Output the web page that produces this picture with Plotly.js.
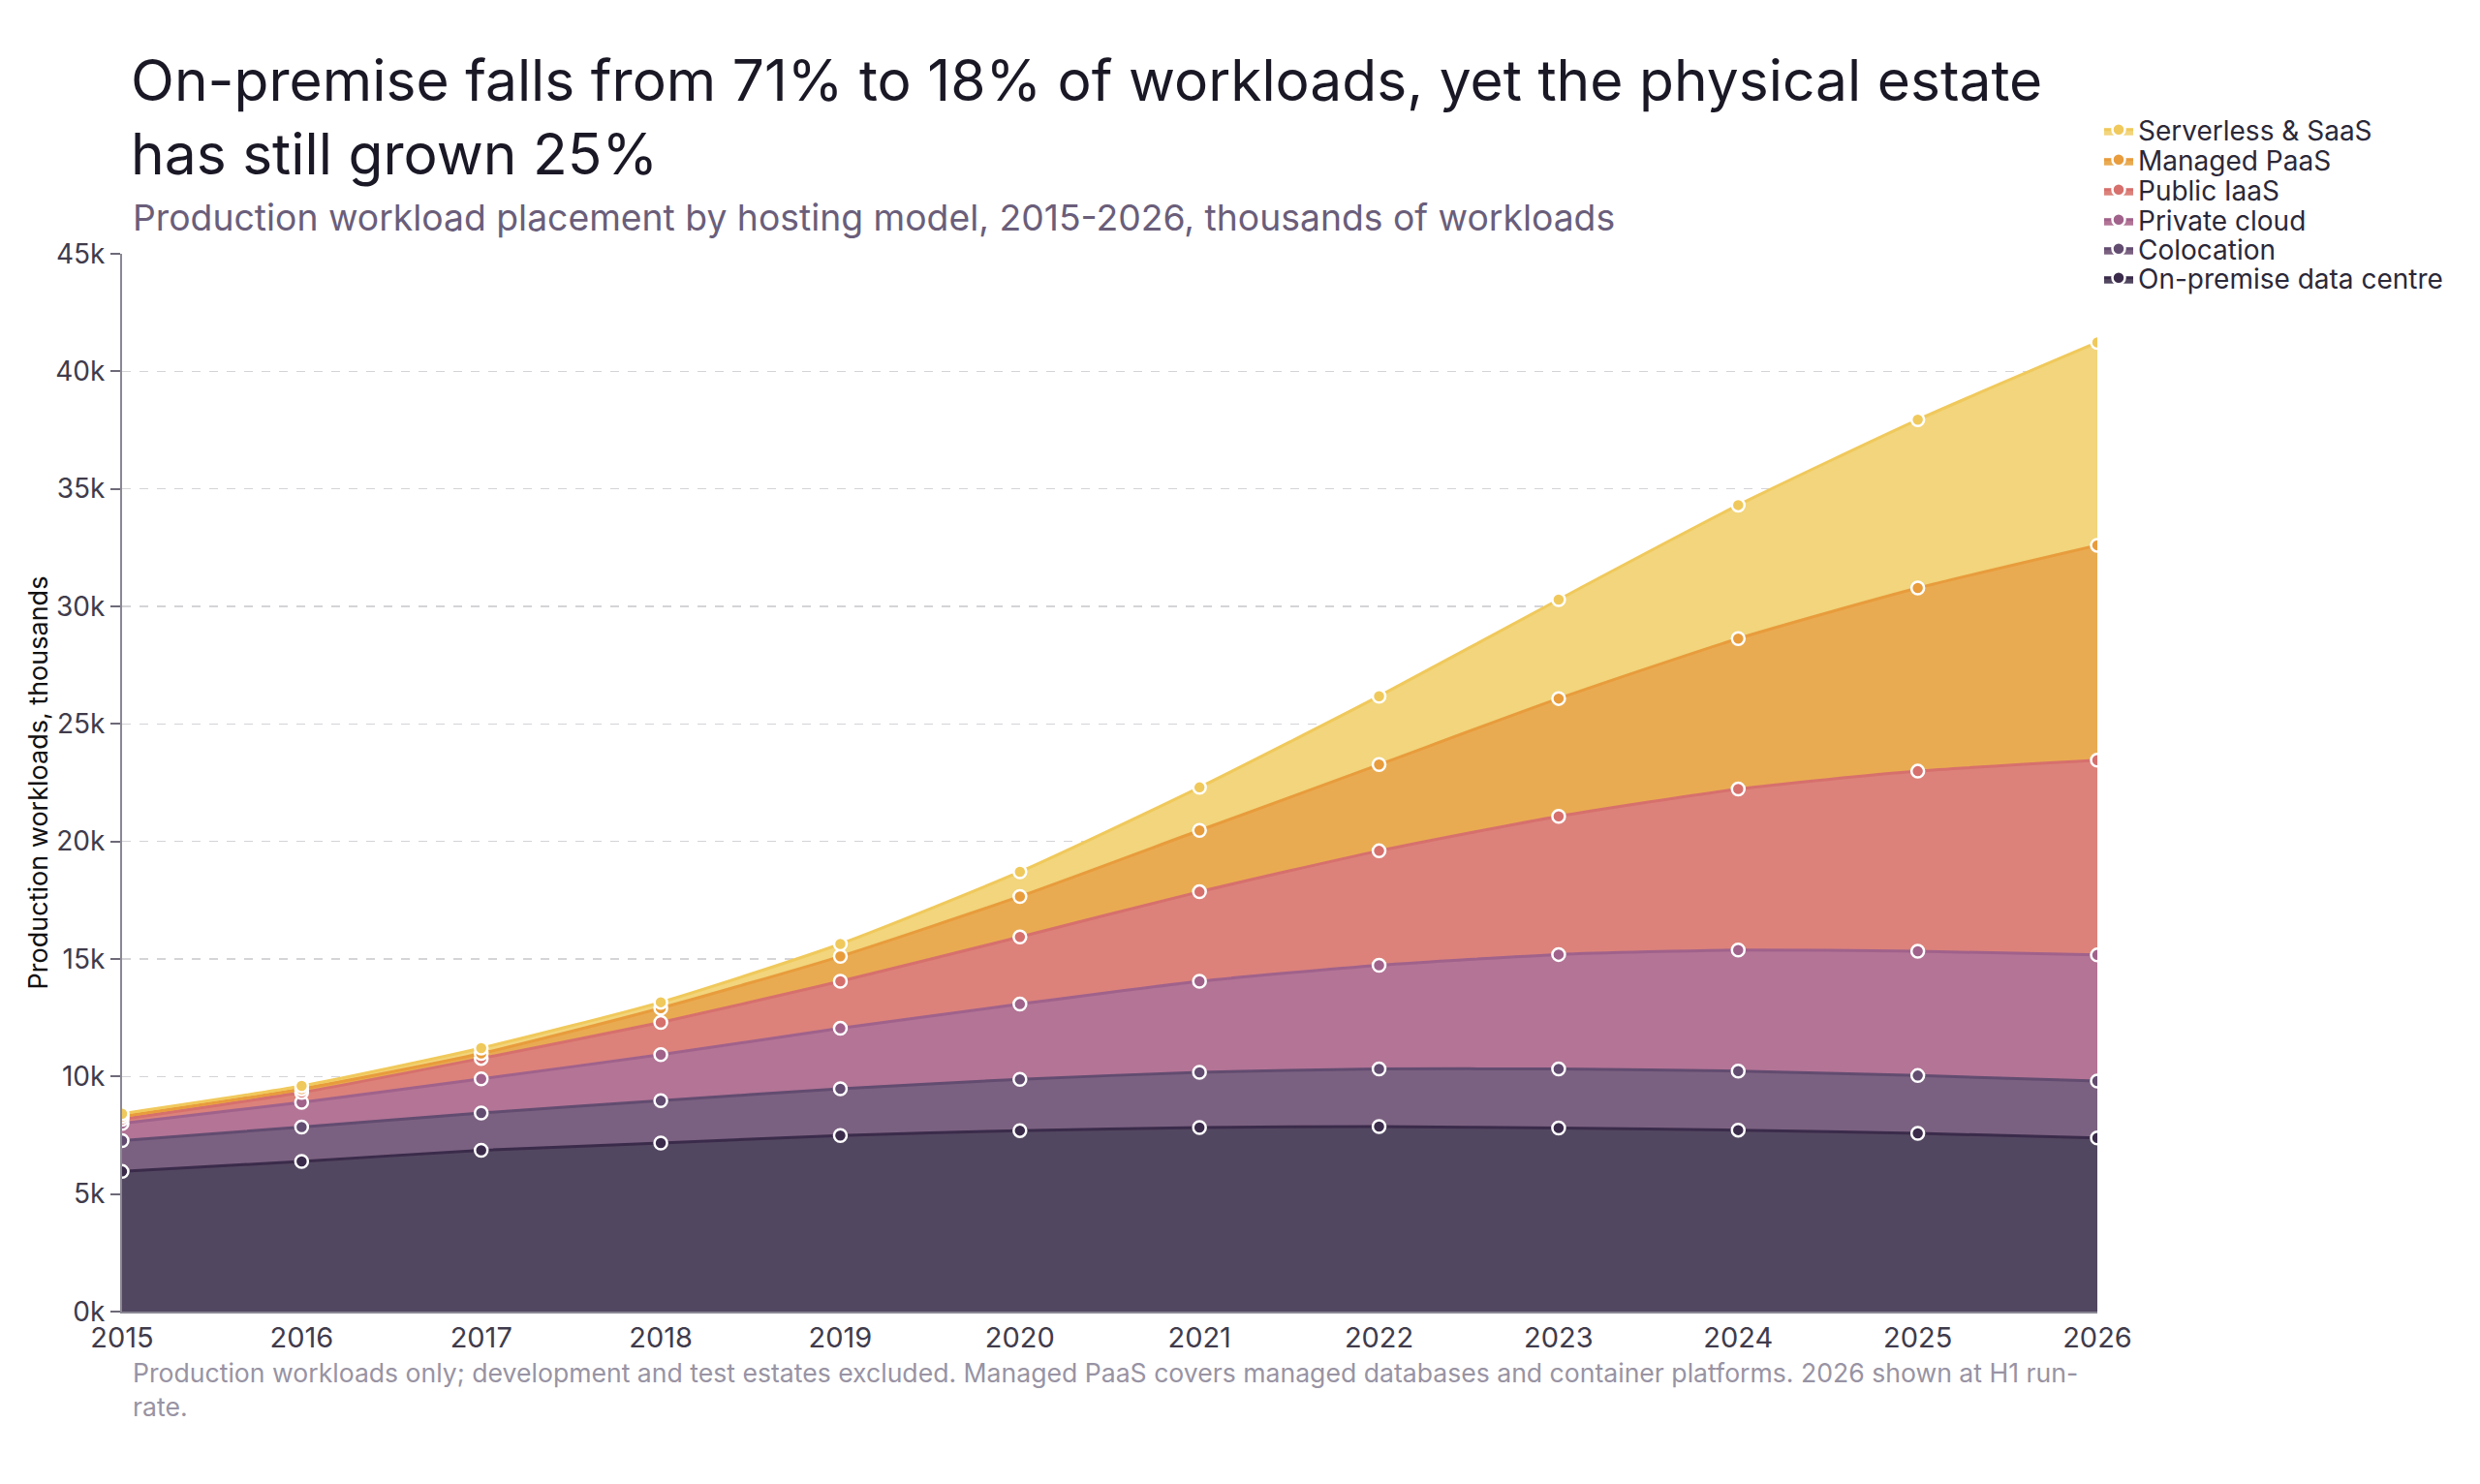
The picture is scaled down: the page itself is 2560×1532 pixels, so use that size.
<!DOCTYPE html>
<html>
<head>
<meta charset="utf-8">
<script src="https://cdn.plot.ly/plotly-3.0.1.min.js"></script>
<style>
  html, body { margin: 0; padding: 0; background: #ffffff; }
  #chart { width: 2560px; height: 1532px; }
</style>
</head>
<body>
<div id="chart"></div>
<script>
// Years (x categories)
const years = [2015, 2016, 2017, 2018, 2019, 2020, 2021, 2022, 2023, 2024, 2025, 2026];

// Production workloads by hosting model, thousands
const onPremise  = [5.96, 6.39, 6.86, 7.17, 7.49, 7.70, 7.83, 7.87, 7.81, 7.72, 7.58, 7.39];
const colocation = [1.31, 1.46, 1.59, 1.80, 1.99, 2.18, 2.35, 2.45, 2.51, 2.51, 2.46, 2.42];
const privateCloud = [0.73, 1.05, 1.45, 1.96, 2.57, 3.20, 3.87, 4.41, 4.87, 5.15, 5.29, 5.36];
const publicIaaS = [0.18, 0.42, 0.87, 1.37, 2.00, 2.86, 3.81, 4.87, 5.88, 6.85, 7.66, 8.29];
const managedPaaS = [0.12, 0.15, 0.21, 0.61, 1.06, 1.72, 2.61, 3.67, 5.01, 6.40, 7.79, 9.14];
const serverlessSaaS = [0.12, 0.13, 0.23, 0.25, 0.53, 1.05, 1.83, 2.91, 4.21, 5.68, 7.16, 8.63];

const seriesNames = ["On-premise data centre", "Colocation", "Private cloud", "Public IaaS", "Managed PaaS", "Serverless & SaaS"];
const seriesValues = [onPremise, colocation, privateCloud, publicIaaS, managedPaaS, serverlessSaaS];
const fillColors = ["#524760", "#7b6181", "#b37496", "#dc827b", "#e9ab52", "#f2d57c"];
const lineColors = ["#3b2b4b", "#624c70", "#a0628b", "#d6706d", "#e89c3c", "#f0c95c"];

// Y-axis ticks
const yTickVals = [0, 5, 10, 15, 20, 25, 30, 35, 40, 45];
const yTickText = ["0k", "5k", "10k", "15k", "20k", "25k", "30k", "35k", "40k", "45k"];

const FONT = "Inter, 'Noto Sans', 'DejaVu Sans', sans-serif";

// plot area geometry (pixels)
const PL = 126, PR = 2165, PT = 262, PB = 1354;
const PW = PR - PL, PH = PB - PT;
const px2x = (x) => (x - PL) / PW;
const px2y = (y) => (PB - y) / PH;

// one legend per series so the item spacing can match the reference
const legendKeys = ["legend6", "legend5", "legend4", "legend3", "legend2", "legend"];
const legendCenters = [287, 257, 227, 196, 165, 134];

const traces = seriesNames.map((name, i) => ({
  type: "scatter",
  mode: "lines+markers",
  name: name,
  x: years,
  y: seriesValues[i],
  stackgroup: "one",
  fill: "tonexty",
  fillcolor: fillColors[i],
  line: { color: lineColors[i], width: 3, shape: "spline", smoothing: 0.6 },
  marker: { size: 13, color: lineColors[i], line: { color: "#ffffff", width: 2.5 } },
  legend: legendKeys[i],
  hoverinfo: "skip"
}));

const layout = {
  width: 2560,
  height: 1532,
  paper_bgcolor: "#ffffff",
  plot_bgcolor: "#ffffff",
  margin: { l: PL, r: 2560 - PR, t: PT, b: 1532 - PB, pad: 0 },
  font: { family: FONT, color: "#2b2838" },
  title: {
    text: "On-premise falls from 71% to 18% of workloads, yet the physical estate<br>has still grown 25%",
    font: { family: FONT, size: 58.7, color: "#1b1826" },
    x: 135 / 2560,
    xanchor: "left",
    xref: "container",
    y: 1 - 104 / 1532,
    yanchor: "top",
    yref: "container"
  },
  showlegend: true,
  xaxis: {
    range: [2015, 2026],
    tickmode: "array",
    tickvals: years,
    ticktext: years.map(String),
    tickfont: { family: FONT, size: 29, color: "#403b4b" },
    showgrid: false,
    zeroline: false,
    showline: true,
    linecolor: "#8a8794",
    linewidth: 2,
    ticks: "",
    fixedrange: true
  },
  yaxis: {
    range: [0, 45],
    tickmode: "array",
    tickvals: yTickVals,
    ticktext: yTickText,
    tickfont: { family: FONT, size: 28, color: "#403b4b" },
    showgrid: true,
    gridcolor: "#d4d4d8",
    griddash: "dash",
    gridwidth: 1.5,
    zeroline: false,
    showline: true,
    linecolor: "#8a8794",
    linewidth: 2,
    ticks: "outside",
    ticklen: 10,
    tickcolor: "#6e6a78",
    tickwidth: 2,
    title: {
      text: "Production workloads, thousands",
      font: { family: FONT, size: 27, color: "#111111" },
      standoff: 0
    },
    fixedrange: true
  },
  annotations: [
    {
      text: "Production workload placement by hosting model, 2015-2026, thousands of workloads",
      xref: "paper", yref: "paper",
      x: px2x(135), y: px2y(200),
      xanchor: "left", yanchor: "top",
      showarrow: false,
      align: "left",
      font: { family: FONT, size: 37.3, color: "#6a5e7a" }
    },
    {
      text: "Production workloads only; development and test estates excluded. Managed PaaS covers managed databases and container platforms. 2026 shown at H1 run-<br>rate.",
      xref: "paper", yref: "paper",
      x: px2x(135), y: px2y(1399),
      xanchor: "left", yanchor: "top",
      showarrow: false,
      align: "left",
      font: { family: FONT, size: 26.6, color: "#9893a3" }
    }
  ]
};

legendKeys.forEach((key, i) => {
  layout[key] = {
    x: px2x(2167),
    xanchor: "left",
    y: px2y(legendCenters[i]),
    yanchor: "middle",
    font: { family: FONT, size: 28, color: "#2b2838" },
    bgcolor: "rgba(0,0,0,0)",
    itemwidth: 30,
    borderwidth: 0
  };
});

Plotly.newPlot("chart", traces, layout, { displayModeBar: false, staticPlot: true });
</script>
</body>
</html>
